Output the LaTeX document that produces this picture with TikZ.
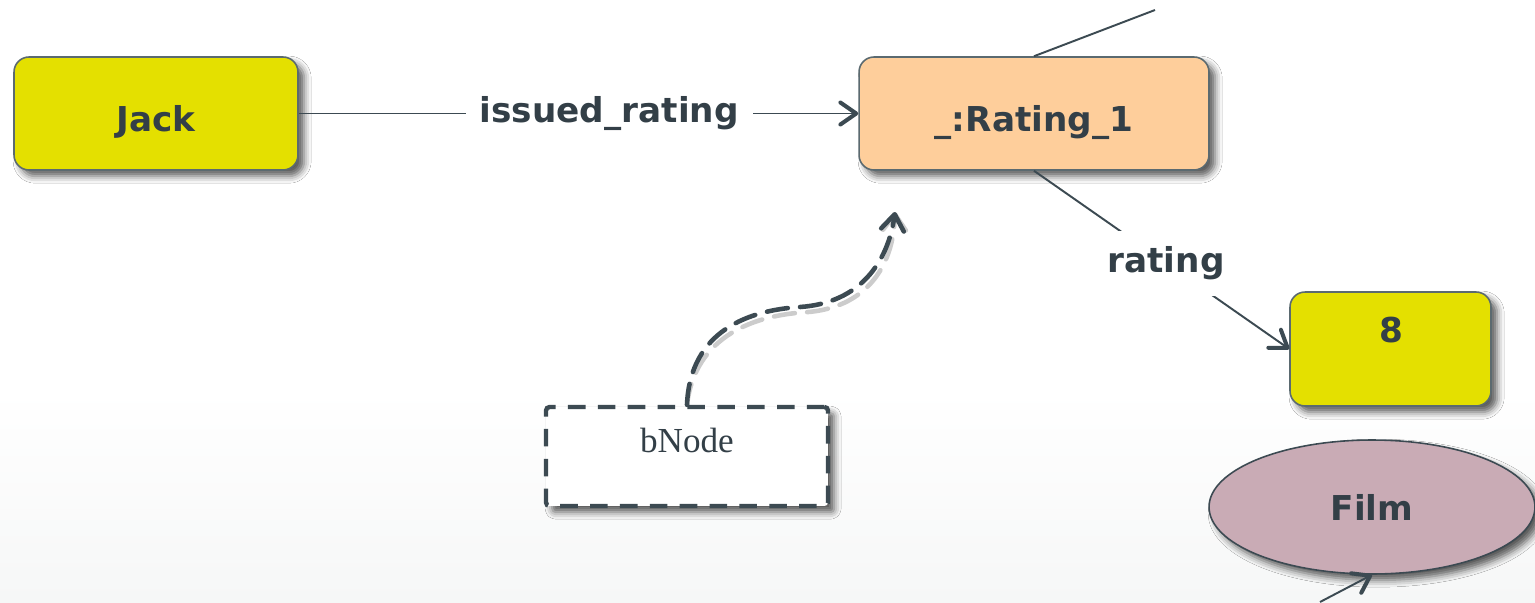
\documentclass[tikz,border=0pt]{standalone}
\usepackage{fontspec}
\setmainfont{Liberation Serif}
\newfontfamily\labelfont{DejaVu Sans}
\usetikzlibrary{arrows.meta,shapes.geometric,shadows.blur}

\definecolor{ink}{HTML}{333F47}
\definecolor{edgecol}{HTML}{3C4A52}
\definecolor{boxline}{HTML}{5B6A70}
\definecolor{leafyellow}{HTML}{E4E000}
\definecolor{blankorange}{HTML}{FECE9B}
\definecolor{classmauve}{HTML}{C9ABB5}
\definecolor{floorgray}{HTML}{F6F7F7}

\tikzset{
  dropshadow/.style={blur shadow={shadow xshift=3.5pt, shadow yshift=-3.5pt,
      shadow blur radius=4pt, shadow opacity=65}},
  boldtext/.style={font=\labelfont\bfseries\fontsize{19.5}{22}\selectfont, text=ink},
  resbox/.style={draw=boxline, line width=0.9pt, rounded corners=0.3cm,
      inner sep=0pt, dropshadow, boldtext, text height=21pt, text depth=0pt},
  classoval/.style={ellipse, draw=edgecol, line width=0.9pt, fill=classmauve,
      inner sep=0pt, dropshadow, boldtext},
  blankbox/.style={draw=edgecol, line width=2.5pt, dash pattern=on 10pt off 7pt,
      fill=white, rounded corners=2pt, inner sep=0pt, dropshadow},
  barb/.style={-{Straight Barb[length=9pt,width=12.5pt,line width=2.3pt,round]}},
  link/.style={draw=edgecol, line width=1.1pt, barb},
  plainlink/.style={draw=edgecol, line width=1.1pt},
  edgelabel/.style={fill=white, boldtext},
  hint/.style={draw=edgecol, line width=2.6pt, dash pattern=on 12pt off 7pt,
      line cap=round, -{Straight Barb[length=9pt,width=13pt,line width=2.6pt,round]}},
}

\begin{document}
\begin{tikzpicture}[x=0.02cm, y=-0.02cm]
  % page and the soft floor gradient
  \useasboundingbox (0,0) rectangle (1535,602);
  \fill[white] (0,0) rectangle (1535,390);
  \shade[top color=white, bottom color=floorgray] (0,389) rectangle (1535,602);

  % resources
  \node[resbox, fill=leafyellow, minimum width=5.68cm, minimum height=2.26cm]
    (jack) at (156,113.5) {Jack};
  \node[resbox, fill=blankorange, minimum width=7.0cm, minimum height=2.26cm]
    (r1) at (1034,113.5) {\_:Rating\_1};
  \node[resbox, fill=leafyellow, minimum width=4.02cm, minimum height=2.28cm]
    (eight) at (1390.5,349) {};
  \node[boldtext] (eighttext) at (1391,330) {8};
  \node[classoval, minimum width=6.52cm, minimum height=2.68cm]
    (film) at (1372,507) {Film};

  % blank node marker
  \node[blankbox, minimum width=5.64cm, minimum height=1.98cm]
    (bn) at (687,456.5) {};
  \node[text=ink, font=\fontsize{20}{22}\selectfont] (bntext) at (687,440) {bNode};

  % free ends of edges leaving the view
  \coordinate (upper) at (1155,10);
  \coordinate (lower) at (1320,602);
  \coordinate (btip) at (895,212);

  % edges
  \draw[link] (jack.east) -- node[pos=0.555, edgelabel, inner xsep=8pt, inner ysep=2pt]
    {issued\_rating} (r1.west);
  \draw[plainlink] (r1.north) -- (upper);
  \draw[link] (r1.south) -- node[pos=0.5, edgelabel, inner xsep=0pt, inner ysep=9pt,
    xshift=2.5pt, yshift=-2pt] {rating} (eight.west);
  \draw[link] (lower) -- (film.south);

  % dashed pointer from the blank node
  \draw[hint, draw=black, opacity=0.2, shift={(3pt,-3pt)}]
    (bn.north) .. controls (690,330) and (750,310) .. (800,307)
    .. controls (860,303) and (888,262) .. (btip);
  \draw[hint]
    (bn.north) .. controls (690,330) and (750,310) .. (800,307)
    .. controls (860,303) and (888,262) .. (btip);
\end{tikzpicture}
\end{document}
